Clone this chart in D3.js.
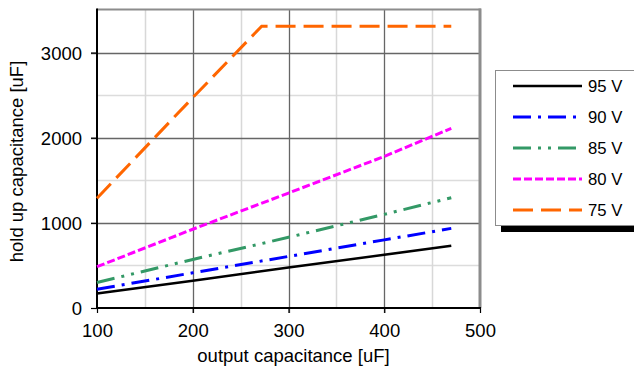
<!DOCTYPE html>
<html><head><meta charset="utf-8">
<script src="https://cdn.jsdelivr.net/npm/d3@7/dist/d3.min.js"></script>
<style>
html,body{margin:0;padding:0;background:#fff;}
svg{display:block;font-family:"Liberation Sans",Arial,sans-serif;}
</style></head>
<body>
<svg id="chart" width="634" height="371"></svg>
<script>
// Data
const seriesNames = ["95 V", "90 V", "85 V", "80 V", "75 V"];
const xValues = [100, 200, 300, 400, 470];
const v95 = [170, 320, 475, 625, 730];
const v90 = [220, 413, 606, 800, 935];
const v85 = [300, 570, 830, 1100, 1295];
const v80 = [485, 925, 1350, 1780, 2110];
const x75 = [100, 200, 272, 300, 400, 470];
const v75 = [1290, 2470, 3310, 3310, 3310, 3310];
const xTicks = [100, 200, 300, 400, 500];
const yTicks = [0, 1000, 2000, 3000];
const xMinor = [150, 250, 350, 450];
const yMinor = [500, 1500, 2500];
const xTitle = "output capacitance [uF]";
const yTitle = "hold up capacitance [uF]";

const series = [
  {name: seriesNames[0], xs: xValues, ys: v95, color: "#000000", w: 2.5, dash: null},
  {name: seriesNames[1], xs: xValues, ys: v90, color: "#0000ff", w: 3, dash: "18,7,3,7"},
  {name: seriesNames[2], xs: xValues, ys: v85, color: "#339966", w: 3, dash: "18,7,3,7,3,7"},
  {name: seriesNames[3], xs: xValues, ys: v80, color: "#ff00ff", w: 3, dash: "8,3"},
  {name: seriesNames[4], xs: x75, ys: v75, color: "#ff6600", w: 3, dash: "20,8"}
];

const svg = d3.select("#chart");
const L = 97, R = 480, T = 10, B = 308;
const x = d3.scaleLinear().domain([100, 500]).range([L, R]);
const y = d3.scaleLinear().domain([0, 3500]).range([B, T]);

// grid
const g = svg.append("g");
g.selectAll(".ymin").data(yMinor).enter().append("line")
  .attr("x1", L).attr("x2", R).attr("y1", d => Math.round(y(d)) + 0.5).attr("y2", d => Math.round(y(d)) + 0.5)
  .attr("stroke", "#dcdcdc").attr("stroke-width", 1.5);
g.selectAll(".xmin").data(xMinor).enter().append("line")
  .attr("y1", T).attr("y2", B).attr("x1", d => Math.round(x(d)) + 0.5).attr("x2", d => Math.round(x(d)) + 0.5)
  .attr("stroke", "#d8d8d8").attr("stroke-width", 1.5);
g.selectAll(".ymaj").data(yTicks.filter(d => d > 0)).enter().append("line")
  .attr("x1", L - 6).attr("x2", R).attr("y1", d => Math.round(y(d)) + 0.5).attr("y2", d => Math.round(y(d)) + 0.5)
  .attr("stroke", "#666").attr("stroke-width", 1.3);
g.selectAll(".xmaj").data(xTicks.filter(d => d > 100 && d < 500)).enter().append("line")
  .attr("y1", T).attr("y2", B + 5).attr("x1", d => Math.round(x(d)) + 0.5).attr("x2", d => Math.round(x(d)) + 0.5)
  .attr("stroke", "#666").attr("stroke-width", 1.3);

// top and right border
svg.append("line").attr("x1", L).attr("x2", R + 1).attr("y1", T - 0.5).attr("y2", T - 0.5)
  .attr("stroke", "#8c8c8c").attr("stroke-width", 2);
svg.append("line").attr("x1", R).attr("x2", R).attr("y1", T - 1.5).attr("y2", B)
  .attr("stroke", "#8c8c8c").attr("stroke-width", 3);

// axes
const xAxis = d3.axisBottom(x).tickValues(xTicks).tickSize(5).tickFormat(d3.format("d"));
const yAxis = d3.axisLeft(y).tickValues(yTicks).tickSize(6).tickFormat(d3.format("d"));
const xa = svg.append("g").attr("transform", `translate(0,${B})`).call(xAxis);
const ya = svg.append("g").attr("transform", `translate(${L},0)`).call(yAxis);
[xa, ya].forEach(a => {
  a.select(".domain").remove();
  a.selectAll("line").attr("stroke", "#000").attr("stroke-width", 1.2);
  a.selectAll("text").attr("font-size", "18.5px").attr("fill", "#000").attr("font-family", "Liberation Sans, Arial, sans-serif");
});
xa.selectAll("text").attr("dy", null).attr("y", 29);
ya.selectAll("text").attr("x", -15).attr("dy", "0.35em");
svg.append("line").attr("x1", L).attr("x2", L).attr("y1", T - 1.5).attr("y2", B + 1)
  .attr("stroke", "#000").attr("stroke-width", 2);
svg.append("line").attr("x1", L - 1).attr("x2", R + 1).attr("y1", B).attr("y2", B)
  .attr("stroke", "#000").attr("stroke-width", 2);

// series lines
const line = d3.line().x(d => x(d[0])).y(d => y(d[1]));
series.forEach(s => {
  svg.append("path")
    .attr("d", line(s.xs.map((v, i) => [v, s.ys[i]])))
    .attr("fill", "none").attr("stroke", s.color).attr("stroke-width", s.w)
    .attr("stroke-dasharray", s.dash).attr("stroke-linejoin", "miter");
});

// titles
svg.append("text").attr("x", (L + R) / 2 + 5).attr("y", 362).attr("text-anchor", "middle")
  .attr("font-size", "18.5px").text(xTitle);
svg.append("text").attr("transform", `translate(23,${(60 + 263) / 2}) rotate(-90)`)
  .attr("text-anchor", "middle").attr("font-size", "18.5px").text(yTitle);

// legend
const lg = svg.append("g");
lg.append("rect").attr("x", 501).attr("y", 76).attr("width", 200).attr("height", 156).attr("fill", "#000");
lg.append("rect").attr("x", 495.5).attr("y", 70.5).attr("width", 200).attr("height", 155)
  .attr("fill", "#fff").attr("stroke", "#8c8c8c").attr("stroke-width", 1);
const items = lg.selectAll(".item").data(series).enter().append("g")
  .attr("transform", (d, i) => `translate(0,${86 + i * 31})`);
items.append("line").attr("x1", 513).attr("x2", 582).attr("y1", 0).attr("y2", 0)
  .attr("stroke", d => d.color).attr("stroke-width", d => d.w)
  .attr("stroke-dasharray", d => d.dash);
items.append("text").attr("x", 588).attr("y", 0).attr("dy", "0.35em")
  .attr("font-size", "16.7px").text(d => d.name);
</script>
</body></html>
